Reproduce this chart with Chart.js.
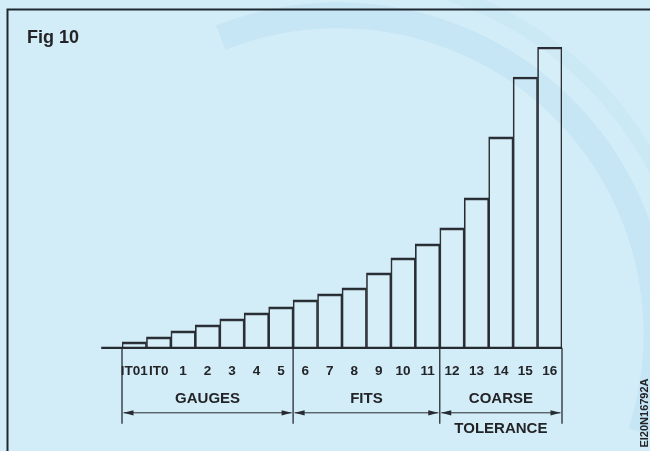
<!DOCTYPE html>
<html>
<head>
<meta charset="utf-8">
<script src="https://cdn.jsdelivr.net/npm/chart.js@4"></script>
<style>
  html, body { margin: 0; padding: 0; background: #d3edf8; }
  #wrap { width: 650px; height: 451px; position: relative; overflow: hidden; }
  canvas { display: block; }
</style>
</head>
<body>
<div id="wrap"><canvas id="c" width="650" height="451"></canvas></div>
<script>
// ---- data (relative bar heights, no numeric scale shown) ----
const categories = ['IT01', 'IT0', '1', '2', '3', '4', '5', '6', '7', '8', '9', '10', '11', '12', '13', '14', '15', '16'];
const barHeights = [6, 11, 17, 23, 29, 35, 41, 48, 54, 60, 75, 90, 104, 120, 150, 211, 271, 301];
const groupNames = ['GAUGES', 'FITS', 'COARSE'];
const groupStart = ['IT01', '6', '12'];
const groupEnd = ['5', '11', '16'];
const footLabel = 'TOLERANCE';
const figTitle = 'Fig 10';
const figCode = 'EI20N16792A';

const INK = '#262b31';
const TEXT = '#232427';
const BG = '#d3edf8';
const FONT = '"Liberation Sans", Arial, sans-serif';

const figPlugin = {
  id: 'fig',
  beforeDraw(chart) {
    const ctx = chart.ctx;
    ctx.save();
    ctx.fillStyle = BG;
    ctx.fillRect(0, 0, chart.width, chart.height);
    // faint watermark arcs (background decoration, upper right)
    ctx.strokeStyle = 'rgba(120,185,225,0.14)';
    ctx.lineWidth = 26;
    ctx.beginPath();
    ctx.arc(chart.width * 0.52, chart.height * 0.74, chart.width * 0.49, Math.PI * 1.38, Math.PI * 2.1);
    ctx.stroke();
    ctx.lineWidth = 14;
    ctx.strokeStyle = 'rgba(120,185,225,0.09)';
    ctx.beginPath();
    ctx.arc(chart.width * 0.52, chart.height * 0.74, chart.width * 0.55, Math.PI * 1.45, Math.PI * 1.95);
    ctx.stroke();
    ctx.restore();
  },
  afterDraw(chart) {
    const ctx = chart.ctx;
    const xs = chart.scales.x, ys = chart.scales.y;
    const step = xs.getPixelForValue(1) - xs.getPixelForValue(0);
    const edge = i => xs.getPixelForValue(i) - step / 2;
    const base = ys.getPixelForValue(0);
    const idx = c => categories.indexOf(c);
    ctx.save();
    ctx.strokeStyle = INK;
    ctx.fillStyle = INK;

    // baseline
    ctx.lineWidth = 2.2;
    ctx.beginPath();
    ctx.moveTo(edge(0) - step * 0.85, base);
    ctx.lineTo(edge(categories.length), base);
    ctx.stroke();

    // extension lines at group boundaries
    const bounds = [edge(idx(groupStart[0]))];
    groupEnd.forEach(g => bounds.push(edge(idx(g) + 1)));
    ctx.lineWidth = 1.3;
    bounds.forEach(b => {
      ctx.beginPath();
      ctx.moveTo(b, base);
      ctx.lineTo(b, base + 76);
      ctx.stroke();
    });

    // dimension lines with arrowheads
    const dimY = base + 65;
    const arrow = (x, dir) => {
      ctx.beginPath();
      ctx.moveTo(x, dimY);
      ctx.lineTo(x + dir * 10, dimY - 2.6);
      ctx.lineTo(x + dir * 10, dimY + 2.6);
      ctx.closePath();
      ctx.fill();
    };
    ctx.lineWidth = 1;
    groupNames.forEach((g, k) => {
      const a = edge(idx(groupStart[k])) + 1.5;
      const b = edge(idx(groupEnd[k]) + 1) - 1.5;
      ctx.beginPath();
      ctx.moveTo(a, dimY);
      ctx.lineTo(b, dimY);
      ctx.stroke();
      arrow(a, 1);
      arrow(b, -1);
    });

    // group labels
    ctx.fillStyle = TEXT;
    ctx.font = 'bold 15px ' + FONT;
    ctx.textAlign = 'center';
    ctx.textBaseline = 'middle';
    groupNames.forEach((g, k) => {
      const a = edge(idx(groupStart[k]));
      const b = edge(idx(groupEnd[k]) + 1);
      ctx.fillText(g, (a + b) / 2, base + 51);
    });
    const ca = edge(idx(groupStart[2])), cb = edge(idx(groupEnd[2]) + 1);
    ctx.fillText(footLabel, (ca + cb) / 2, base + 81);

    // frame
    ctx.strokeStyle = '#1f2830';
    ctx.lineWidth = 2;
    ctx.beginPath();
    ctx.moveTo(7.5, chart.height);
    ctx.lineTo(7.5, 9.5);
    ctx.lineTo(chart.width, 9.5);
    ctx.stroke();

    // title
    ctx.textAlign = 'left';
    ctx.textBaseline = 'alphabetic';
    ctx.font = 'bold 18px ' + FONT;
    ctx.fillStyle = TEXT;
    ctx.fillText(figTitle, 27, 43);

    // figure code, rotated
    ctx.translate(645, 413);
    ctx.rotate(-Math.PI / 2);
    ctx.font = 'bold 11px ' + FONT;
    ctx.textAlign = 'center';
    ctx.textBaseline = 'middle';
    ctx.fillText(figCode, 0, 0);
    ctx.restore();
  }
};

new Chart(document.getElementById('c'), {
  type: 'bar',
  data: {
    labels: categories,
    datasets: [{
      data: barHeights,
      backgroundColor: 'rgba(255,255,255,0.08)',
      borderColor: INK,
      borderWidth: { top: 2, left: 1, right: 1, bottom: 0 },
      borderSkipped: 'start',
      categoryPercentage: 1,
      barPercentage: 1
    }]
  },
  options: {
    responsive: false,
    animation: false,
    devicePixelRatio: 1,
    layout: { padding: { left: 122, right: 88, top: 47, bottom: 57 } },
    plugins: { legend: { display: false }, tooltip: { enabled: false }, title: { display: false } },
    scales: {
      x: {
        grid: { display: false, drawTicks: false },
        border: { display: false },
        ticks: {
          color: TEXT,
          font: { family: FONT, weight: 'bold', size: 13.5 },
          padding: 15,
          maxRotation: 0,
          autoSkip: false
        }
      },
      y: { display: false, min: 0, max: Math.max(...barHeights) }
    }
  },
  plugins: [figPlugin]
});
</script>
</body>
</html>
